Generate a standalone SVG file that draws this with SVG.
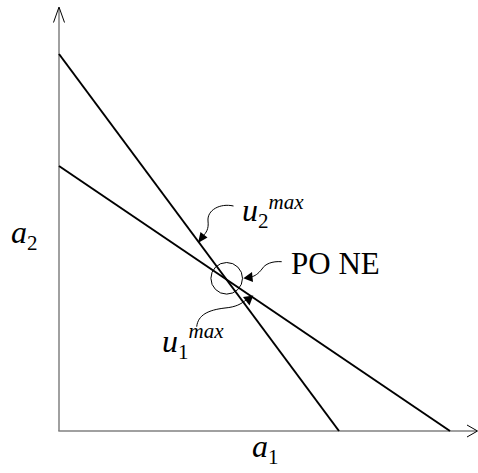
<svg xmlns="http://www.w3.org/2000/svg" width="478" height="473" viewBox="0 0 478 473">
<style>
.axis{stroke:#808080;stroke-width:1.5;fill:none}
.head{stroke:#000;stroke-width:1;fill:none}
.line{stroke:#000;stroke-width:2;fill:none}
.ann{stroke:#000;stroke-width:1;fill:none}
.tip{fill:#000;stroke:none}
text{font-family:"Liberation Serif","Times New Roman",serif;fill:#000}
.it{font-style:italic}
</style>
<rect width="478" height="473" fill="#fff"/>
<g id="axes">
<line class="axis" x1="59" y1="431" x2="59" y2="8"/>
<line class="axis" x1="58.3" y1="431" x2="476" y2="431"/>
<polyline class="head" points="53.5,22.5 59,7 64.5,22.5"/>
<polyline class="head" points="467,425 477.5,431 467,437"/>
<text class="it" x="11" y="243" font-size="32">a<tspan font-style="normal" font-size="21" dy="7">2</tspan></text>
<text class="it" x="252" y="457" font-size="32">a<tspan font-style="normal" font-size="21" dy="7">1</tspan></text>
</g>
<g id="u2line">
<line class="line" x1="59" y1="54" x2="339" y2="431"/>
</g>
<g id="u1line">
<line class="line" x1="59" y1="166" x2="450" y2="431"/>
</g>
<g id="pone">
<circle cx="226.7" cy="278.3" r="15.8" fill="none" stroke="#000" stroke-width="1"/>
<text x="291" y="274" font-size="31">PO NE</text>
</g>
<g id="labels">
<text class="it" x="242" y="221" font-size="32">u<tspan font-style="normal" font-size="21" dy="7">2</tspan><tspan font-size="21" dy="-19">max</tspan></text>
<text class="it" x="162" y="352" font-size="32">u<tspan font-style="normal" font-size="21" dy="7">1</tspan><tspan font-size="21" dy="-21">max</tspan></text>
</g>
<g id="connectors">
<path class="ann" d="M233.5,206 C220,203 207,210 208,221 C209,229 206,233 203,236"/>
<polygon class="tip" points="198,243 200.5,232 207.5,237.5"/>
<path class="ann" d="M281.7,261.7 C272,261 265,264 262,269 C258,274 255,276 251,277"/>
<polygon class="tip" points="243.3,278.3 252,272 253,282"/>
<path class="ann" d="M196.7,326.7 C198,315 208,310 225,308 C236,307 241,304 246,300"/>
<polygon class="tip" points="253.3,295.5 249.5,305.5 243,297"/>
</g>
</svg>
